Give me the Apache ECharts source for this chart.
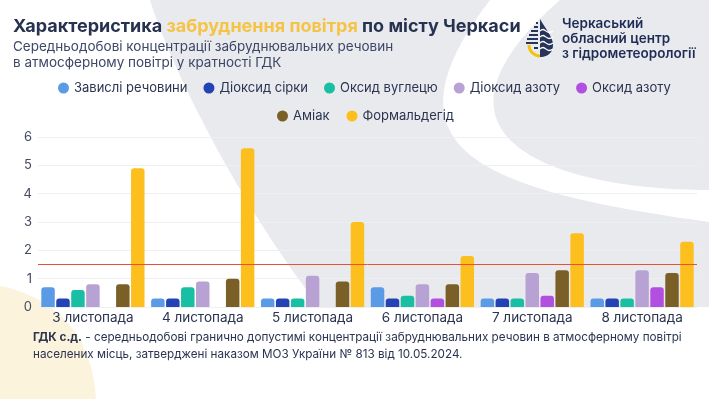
<!DOCTYPE html>
<html>
<head>
<meta charset="utf-8">
<script src="https://cdn.jsdelivr.net/npm/echarts@6/dist/echarts.min.js"></script>
<style>
  html, body { margin: 0; padding: 0; background: #fff; }
  #chart { width: 709px; height: 399px; }
</style>
</head>
<body>
<div id="chart"></div>
<script>
// дані
const categories = ["3 листопада", "4 листопада", "5 листопада", "6 листопада", "7 листопада", "8 листопада"];
const seriesNames = ["Завислі речовини", "Діоксид сірки", "Оксид вуглецю", "Діоксид азоту", "Оксид азоту", "Аміак", "Формальдегід"];
const suspended = [0.7, 0.3, 0.3, 0.7, 0.3, 0.3];
const sulfurDioxide = [0.3, 0.3, 0.3, 0.3, 0.3, 0.3];
const carbonOxide = [0.6, 0.7, 0.3, 0.4, 0.3, 0.3];
const nitrogenDioxide = [0.8, 0.9, 1.1, 0.8, 1.2, 1.3];
const nitrogenOxide = [null, null, null, 0.3, 0.4, 0.7];
const ammonia = [0.8, 1.0, 0.9, 0.8, 1.3, 1.2];
const formaldehyde = [4.9, 5.6, 3.0, 1.8, 2.6, 2.3];
const limitLine = 1.5;
const yTicks = { min: 0, max: 6, interval: 1 };

const colors = ["#5b9be6", "#2343b5", "#19bfa2", "#b8a2d4", "#b24fe0", "#7a6026", "#fcbf1e"];
const font = "Inter";
const dark = "#26324f";

const values = [suspended, sulfurDioxide, carbonOxide, nitrogenDioxide, nitrogenOxide, ammonia, formaldehyde];

const chart = echarts.init(document.getElementById("chart"));

// точки кубічної кривої для фонових фігур
function bez(p0, p1, p2, p3, n) {
  const pts = [];
  for (let k = 0; k <= n; k++) {
    const t = k / n, u = 1 - t;
    pts.push([
      u * u * u * p0[0] + 3 * u * u * t * p1[0] + 3 * u * t * t * p2[0] + t * t * t * p3[0],
      u * u * u * p0[1] + 3 * u * u * t * p1[1] + 3 * u * t * t * p2[1] + t * t * t * p3[1],
    ]);
  }
  return pts;
}

const series = seriesNames.map((name, i) => ({
  name: name,
  type: "bar",
  barGap: "11%",
  barCategoryGap: "6%",
  itemStyle: { color: colors[i], borderRadius: [3, 3, 0, 0] },
  data: values[i],
}));

// червона лінія ГДК
series[6].markLine = {
  symbol: "none",
  silent: true,
  label: { show: false },
  lineStyle: { color: "#e8503a", width: 1, type: "solid" },
  data: [{ yAxis: limitLine }],
};

const legendText = { fontFamily: font, fontSize: 13, color: "#2b3450", lineHeight: 14 };

// фон
const grayShape = bez([150, 0], [175, 80], [250, 220], [320, 307], 30).concat([[709, 307], [709, 0]]);
const whiteBand = bez([490, 0], [375, 150], [480, 190], [709, 222], 40)
  .concat(bez([709, 190], [560, 190], [400, 140], [560, 0], 40));
const creamShape = bez([0, 286], [50, 296], [92, 330], [96, 399], 30).concat([[0, 399]]);

// лого: крапля
const logo = [];
logo.push({
  type: "polygon",
  shape: { points: bez([540, 19], [545, 28], [553, 37], [553, 45], 12).concat(bez([553, 45], [553, 53], [547, 57], [540, 57], 12)) },
  style: { fill: "#27345a" },
  z: 20,
});
[31, 37, 43, 49].forEach((y) => {
  logo.push({
    type: "polyline",
    shape: { points: [[540, y], [543, y - 1.5], [546, y], [549, y + 1.5], [553, y]], smooth: 0.5 },
    style: { fill: null, stroke: "#fff", lineWidth: 1.3 },
    z: 21,
  });
});
const halfW = { 23: 2, 27: 4, 31: 7, 35: 9, 39: 11, 43: 12 };
Object.keys(halfW).forEach((y) => {
  logo.push({
    type: "line",
    shape: { x1: 538 - halfW[y], y1: +y, x2: 538, y2: +y },
    style: { stroke: "#27345a", lineWidth: 2 },
    z: 20,
  });
});
logo.push({
  type: "arc",
  shape: { cx: 540, cy: 45, r: 11, startAngle: Math.PI / 2, endAngle: Math.PI, clockwise: true },
  style: { stroke: "#f4c20d", lineWidth: 3, fill: null },
  z: 20,
});
logo.push({
  type: "line",
  shape: { x1: 534, y1: 48, x2: 538, y2: 48 },
  style: { stroke: "#27345a", lineWidth: 2 },
  z: 20,
});

chart.setOption({
  backgroundColor: "#fff",
  textStyle: { fontFamily: font },
  title: [
    {
      text: "{a|Характеристика }{b|забруднення повітря}{a| по місту Черкаси}",
      left: 13,
      top: 16,
      padding: 0,
      textStyle: {
        rich: {
          a: { fontFamily: font, fontSize: 18, fontWeight: 700, color: dark, lineHeight: 22 },
          b: { fontFamily: font, fontSize: 18, fontWeight: 700, color: "#f6c445", lineHeight: 22 },
        },
      },
    },
    {
      text: "Середньодобові концентрації забруднювальних речовин\nв атмосферному повітрі у кратності ГДК",
      left: 13,
      top: 39,
      padding: 0,
      textStyle: { fontFamily: font, fontSize: 13.5, fontWeight: 400, lineHeight: 16, color: "#3d4866" },
    },
    {
      text: "Черкаський\nобласний центр\nз гідрометеорології",
      left: 562,
      top: 16,
      padding: 0,
      textStyle: { fontFamily: font, fontSize: 13.5, fontWeight: 600, lineHeight: 15, color: "#1f2c55" },
    },
    {
      text:
        "{b|ГДК с.д.}{a| - середньодобові гранично допустимі концентрації забруднювальних речовин в атмосферному повітрі}\n" +
        "{a|населених місць, затверджені наказом МОЗ України № 813 від 10.05.2024.}",
      left: 33,
      top: 329,
      padding: 0,
      textStyle: {
        fontWeight: 400,
        rich: {
          a: { fontFamily: font, fontSize: 11.7, fontWeight: 400, color: "#2b3450", lineHeight: 17 },
          b: { fontFamily: font, fontSize: 11.7, fontWeight: 700, color: "#2b3450", lineHeight: 17 },
        },
      },
    },
  ],
  legend: [
    {
      data: seriesNames.slice(0, 5),
      left: 58,
      top: 81,
      icon: "circle",
      itemWidth: 11,
      itemHeight: 11,
      itemGap: 16,
      padding: 0,
      textStyle: legendText,
    },
    {
      data: seriesNames.slice(5),
      left: 277,
      top: 109,
      icon: "circle",
      itemWidth: 11,
      itemHeight: 11,
      itemGap: 17,
      padding: 0,
      textStyle: legendText,
    },
  ],
  grid: { left: 38, top: 137, width: 659, height: 170, containLabel: false },
  xAxis: {
    type: "category",
    data: categories,
    axisLine: { show: false },
    axisTick: { show: false },
    axisLabel: { fontFamily: font, fontSize: 13.5, color: "#2b3450", margin: 4 },
  },
  yAxis: {
    type: "value",
    min: yTicks.min,
    max: yTicks.max,
    interval: yTicks.interval,
    axisLine: { show: false },
    axisTick: { show: false },
    axisLabel: { fontFamily: font, fontSize: 13, color: "#454b63", margin: 6 },
    splitLine: { lineStyle: { color: "#eeeff3", width: 1 } },
  },
  graphic: [
    { type: "polygon", shape: { points: grayShape }, style: { fill: "#e9eaee" }, z: -10, silent: true },
    { type: "polygon", shape: { points: whiteBand }, style: { fill: "#ffffff" }, z: -9, silent: true },
    { type: "polygon", shape: { points: creamShape }, style: { fill: "#fcf3dc" }, z: -10, silent: true },
  ].concat(logo),
  series: series,
});
</script>
</body>
</html>
